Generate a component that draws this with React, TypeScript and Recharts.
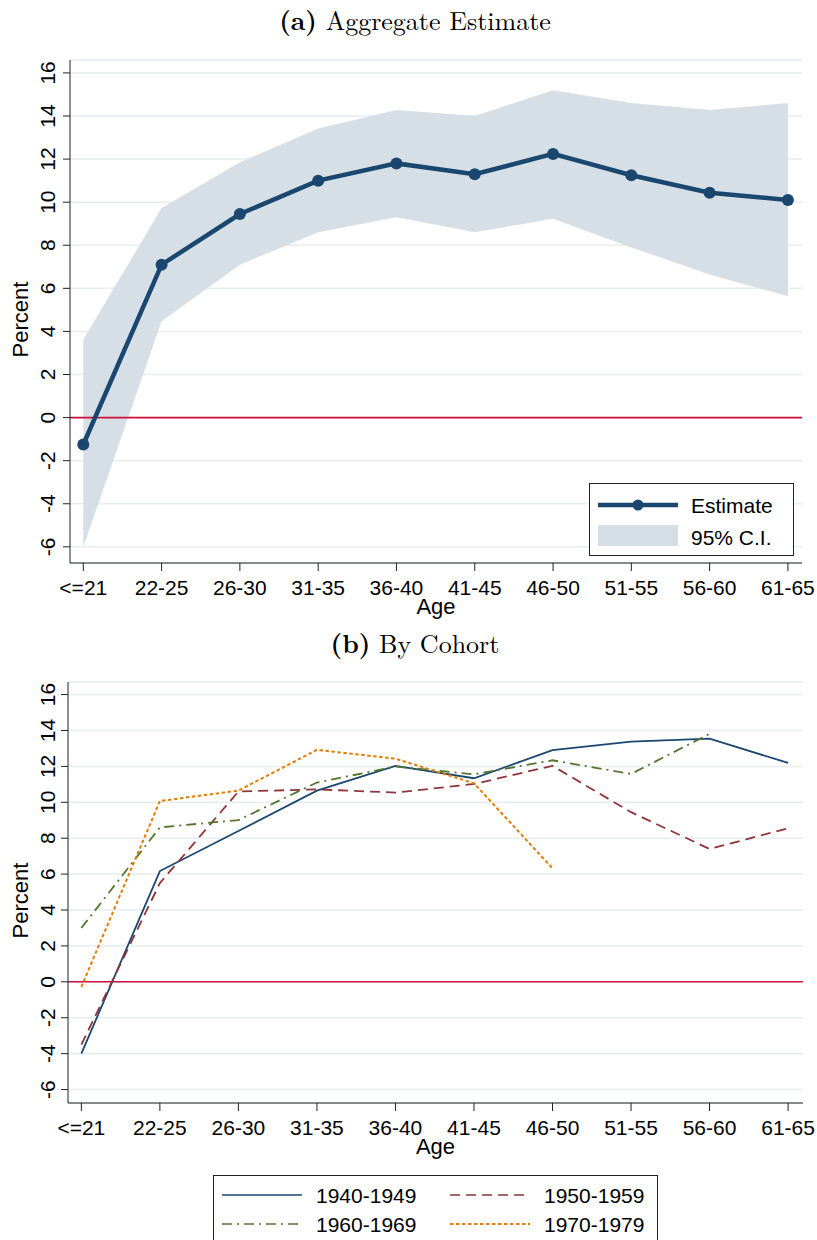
import React from "react";
import {
  ComposedChart,
  LineChart,
  Line,
  Area,
  XAxis,
  YAxis,
  CartesianGrid,
  ReferenceLine,
  Legend,
} from "recharts";

const ageGroups = ["<=21", "22-25", "26-30", "31-35", "36-40", "41-45", "46-50", "51-55", "56-60", "61-65"];
const yTicks = [-6, -4, -2, 0, 2, 4, 6, 8, 10, 12, 14, 16];

// panel (a)
const estimate = [-1.25, 7.1, 9.45, 11.0, 11.8, 11.3, 12.24, 11.25, 10.44, 10.1];
const ciLow = [-6.0, 4.47, 7.1, 8.6, 9.3, 8.6, 9.23, 7.9, 6.64, 5.63];
const ciHigh = [3.62, 9.73, 11.85, 13.42, 14.28, 14.0, 15.2, 14.6, 14.28, 14.6];

// panel (b)
const c1940 = [-4.0, 6.17, 8.4, 10.65, 12.03, 11.34, 12.9, 13.38, 13.55, 12.19];
const c1950 = [-3.5, 5.5, 10.6, 10.72, 10.54, 11.02, 12.03, 9.45, 7.4, 8.55];
const c1960 = [3.0, 8.6, 9.01, 11.1, 11.99, 11.56, 12.34, 11.58, 13.81, null];
const c1970 = [-0.28, 10.07, 10.65, 12.92, 12.43, 11.06, 6.32, null, null, null];

const NAVY = "#1a476f";
const MAROON = "#90353b";
const GREEN = "#55752f";
const ORANGE = "#e37e00";
const CI_FILL = "#d5dde5";
const GRID = "#e6eef0";
const ZERO = "#d0103a";
const SANS = "'Liberation Sans', Arial, sans-serif";
const SERIF = "'Latin Modern Roman', 'Liberation Serif', 'DejaVu Serif', serif";

const aggData = ageGroups.map((g, i) => ({
  x: i,
  est: estimate[i],
  ci: [ciLow[i], ciHigh[i]],
}));

const cohortData = ageGroups.map((g, i) => ({
  x: i,
  c1940: c1940[i],
  c1950: c1950[i],
  c1960: c1960[i],
  c1970: c1970[i],
}));

const xTicks = ageGroups.map((_, i) => i);

const YTick = (props: any) => {
  const { y, payload } = props;
  const tx = 55;
  return (
    <text
      x={tx}
      y={y}
      transform={`rotate(-90, ${tx}, ${y})`}
      textAnchor="middle"
      fontSize={21}
      fontFamily={SANS}
      fill="#000"
    >
      {payload.value}
    </text>
  );
};

const XTick = (props: any) => {
  const { x, y, payload } = props;
  return (
    <text x={x} y={y + 22} textAnchor="middle" fontSize={21} fontFamily={SANS} fill="#000">
      {ageGroups[payload.value]}
    </text>
  );
};

const percentLabel = (props: any) => {
  const { viewBox } = props;
  const cy = viewBox.y + viewBox.height / 2 + 8;
  return (
    <text
      x={28}
      y={cy}
      transform={`rotate(-90, 28, ${cy})`}
      textAnchor="middle"
      fontSize={22}
      fontFamily={SANS}
      fill="#000"
    >
      Percent
    </text>
  );
};

const ageLabel = (props: any) => {
  const { viewBox } = props;
  const cx = viewBox.x + viewBox.width / 2;
  return (
    <text x={cx} y={viewBox.y + 51} textAnchor="middle" fontSize={22} fontFamily={SANS} fill="#000">
      Age
    </text>
  );
};

const AggLegend = () => (
  <div
    style={{
      width: 205,
      height: 73,
      border: "1.5px solid #222",
      background: "#fff",
      boxSizing: "border-box",
    }}
  >
    <svg width={202} height={70} style={{ display: "block" }}>
      <line x1={8} y1={21} x2={88} y2={21} stroke={NAVY} strokeWidth={4.5} />
      <circle cx={48} cy={21} r={5.5} fill={NAVY} />
      <text x={101} y={29} fontSize={21} fontFamily={SANS}>Estimate</text>
      <rect x={8} y={41} width={80} height={21} fill={CI_FILL} />
      <text x={101} y={61} fontSize={21} fontFamily={SANS}>95% C.I.</text>
    </svg>
  </div>
);

const cohortItems = [
  { name: "1940-1949", color: NAVY, dash: undefined, col: 0, row: 0 },
  { name: "1950-1959", color: MAROON, dash: "10 6", col: 1, row: 0 },
  { name: "1960-1969", color: GREEN, dash: "10 5 2 5", col: 0, row: 1 },
  { name: "1970-1979", color: ORANGE, dash: "3.5 2.5", col: 1, row: 1 },
];

const CohortLegend = () => (
  <div
    style={{
      width: 445,
      height: 80,
      border: "1.5px solid #222",
      borderBottom: "none",
      background: "#fff",
      boxSizing: "border-box",
    }}
  >
    <svg width={442} height={78} style={{ display: "block" }}>
      {cohortItems.map((it) => {
        const x0 = it.col === 0 ? 8 : 236;
        const y0 = it.row === 0 ? 19 : 48;
        return (
          <g key={it.name}>
            <line
              x1={x0}
              y1={y0}
              x2={x0 + 80}
              y2={y0}
              stroke={it.color}
              strokeWidth={it.dash === "3.5 2.5" ? 2 : 1.7}
              strokeDasharray={it.dash}
            />
            <text x={x0 + 94} y={y0 + 8} fontSize={21} fontFamily={SANS} fill="#000">
              {it.name}
            </text>
          </g>
        );
      })}
    </svg>
  </div>
);

export default function App() {
  return (
    <div style={{ position: "absolute", left: 0, top: 0, width: 817, height: 1240, background: "#fff", overflow: "hidden" }}>
      <div
        style={{
          position: "absolute",
          top: 1,
          left: 0,
          width: 830,
          textAlign: "center",
          fontFamily: SERIF,
          fontSize: 26,
        }}
      >
        <b>(a)</b> Aggregate Estimate
      </div>
      <div style={{ position: "absolute", top: 0, left: 0 }}>
        <ComposedChart
          width={817}
          height={626}
          data={aggData}
          margin={{ top: 60, right: 15, bottom: 0, left: 0 }}
        >
          <CartesianGrid vertical={false} stroke={GRID} strokeWidth={1.5} />
          <XAxis
            dataKey="x"
            type="number"
            domain={[-0.17, 9.18]}
            ticks={xTicks}
            allowDataOverflow
            height={63}
            tick={<XTick />}
            tickSize={8}
            stroke="#222"
            tickLine={{ stroke: "#222" }}
            label={ageLabel}
          />
          <YAxis
            type="number"
            domain={[-6.75, 16.6]}
            ticks={yTicks}
            allowDataOverflow
            width={70}
            tick={<YTick />}
            tickSize={7}
            stroke="#222"
            label={percentLabel}
          />
          <ReferenceLine y={0} stroke={ZERO} strokeWidth={1.6} />
          <Area
            dataKey="ci"
            type="linear"
            stroke="none"
            fill={CI_FILL}
            fillOpacity={0.95}
            isAnimationActive={false}
            legendType="none"
          />
          <Line
            dataKey="est"
            type="linear"
            stroke={NAVY}
            strokeWidth={4.5}
            dot={{ r: 6, fill: NAVY, stroke: NAVY, strokeWidth: 0 }}
            isAnimationActive={false}
          />
          <Legend
            layout="horizontal"
            align="center"
            verticalAlign="middle"
            content={<AggLegend />}
            wrapperStyle={{ position: "absolute", left: 589, top: 483, width: 205, height: 73 }}
          />
        </ComposedChart>
      </div>

      <div
        style={{
          position: "absolute",
          top: 624,
          left: 0,
          width: 830,
          textAlign: "center",
          fontFamily: SERIF,
          fontSize: 26,
        }}
      >
        <b>(b)</b> By Cohort
      </div>
      <div style={{ position: "absolute", top: 620, left: 0 }}>
        <LineChart
          width={817}
          height={620}
          data={cohortData}
          margin={{ top: 62, right: 14, bottom: 0, left: 0 }}
        >
          <CartesianGrid vertical={false} stroke={GRID} strokeWidth={1.5} />
          <XAxis
            dataKey="x"
            type="number"
            domain={[-0.17, 9.19]}
            ticks={xTicks}
            allowDataOverflow
            height={137}
            tick={<XTick />}
            tickSize={8}
            stroke="#222"
            label={ageLabel}
          />
          <YAxis
            type="number"
            domain={[-6.75, 16.7]}
            ticks={yTicks}
            allowDataOverflow
            width={68}
            tick={<YTick />}
            tickSize={7}
            stroke="#222"
            label={percentLabel}
          />
          <ReferenceLine y={0} stroke={ZERO} strokeWidth={1.6} />
          <Line dataKey="c1940" type="linear" stroke={NAVY} strokeWidth={1.8} dot={false} isAnimationActive={false} />
          <Line dataKey="c1950" type="linear" stroke={MAROON} strokeWidth={1.8} strokeDasharray="10 6" dot={false} isAnimationActive={false} />
          <Line dataKey="c1960" type="linear" stroke={GREEN} strokeWidth={1.8} strokeDasharray="10 5 2 5" dot={false} isAnimationActive={false} />
          <Line dataKey="c1970" type="linear" stroke={ORANGE} strokeWidth={2} strokeDasharray="3.5 2.5" dot={false} isAnimationActive={false} />
          <Legend
            layout="horizontal"
            align="center"
            verticalAlign="middle"
            content={<CohortLegend />}
            wrapperStyle={{ position: "absolute", left: 213, top: 555, width: 445, height: 80 }}
          />
        </LineChart>
      </div>
    </div>
  );
}
